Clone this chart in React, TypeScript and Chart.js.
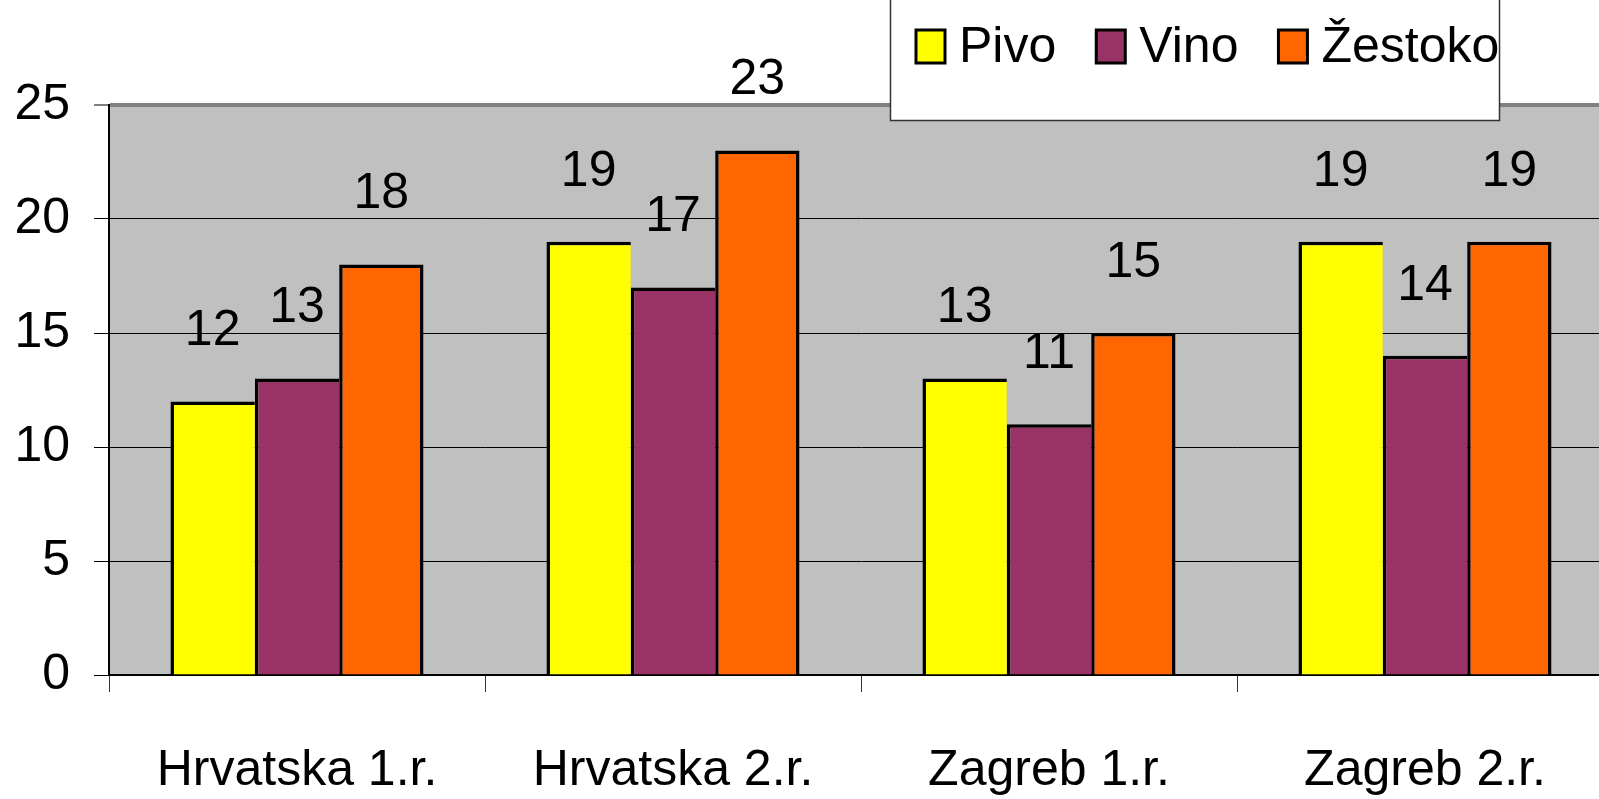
import React, { useEffect, useRef } from "react";
import { Chart, registerables } from "chart.js";

Chart.register(...registerables);

const categories = ["Hrvatska 1.r.", "Hrvatska 2.r.", "Zagreb 1.r.", "Zagreb 2.r."];
const seriesNames = ["Pivo", "Vino", "Žestoko"];
const pivo = [12, 19, 13, 19];
const vino = [13, 17, 11, 14];
const zestoko = [18, 23, 15, 19];
const seriesColors = ["#FFFF00", "#993366", "#FF6600"];
const yMin = 0;
const yMax = 25;
const yStep = 5;

const FONT = '"Liberation Sans", Arial, sans-serif';

const backgroundPlugin = {
  id: "bgPlot",
  beforeDraw(chart: any) {
    const { ctx, chartArea } = chart;
    ctx.save();
    ctx.fillStyle = "#ffffff";
    ctx.fillRect(0, 0, chart.width, chart.height);
    ctx.fillStyle = "#C0C0C0";
    ctx.fillRect(chartArea.left, chartArea.top, chartArea.right - chartArea.left, chartArea.bottom - chartArea.top);
    ctx.restore();
  },
};

const valueLabelPlugin = {
  id: "valueLabels",
  afterDatasetsDraw(chart: any) {
    const { ctx } = chart;
    ctx.save();
    ctx.font = `50px ${FONT}`;
    ctx.fillStyle = "#000";
    ctx.textAlign = "center";
    ctx.textBaseline = "middle";
    chart.data.datasets.forEach((ds: any, i: number) => {
      const meta = chart.getDatasetMeta(i);
      meta.data.forEach((el: any, j: number) => {
        ctx.fillText(String(ds.data[j]), el.x, el.y - 70);
      });
    });
    ctx.restore();
  },
};

const legendPlugin = {
  id: "boxLegend",
  afterDraw(chart: any) {
    const { ctx } = chart;
    ctx.save();
    const boxL = 890.5, boxT = -5, boxR = 1499.5, boxB = 120.5;
    ctx.fillStyle = "#ffffff";
    ctx.fillRect(boxL, boxT, boxR - boxL, boxB - boxT);
    ctx.strokeStyle = "#333";
    ctx.lineWidth = 1.5;
    ctx.strokeRect(boxL, boxT, boxR - boxL, boxB - boxT);
    ctx.font = `50px ${FONT}`;
    ctx.textBaseline = "middle";
    ctx.textAlign = "left";
    let x = 916;
    const sqW = 29, sqH = 33, sqT = 30, midY = 48;
    chart.data.datasets.forEach((ds: any) => {
      ctx.fillStyle = ds.backgroundColor;
      ctx.fillRect(x, sqT, sqW, sqH);
      ctx.strokeStyle = "#000";
      ctx.lineWidth = 3;
      ctx.strokeRect(x, sqT, sqW, sqH);
      x += sqW + 14;
      ctx.fillStyle = "#000";
      ctx.fillText(ds.label, x, midY);
      x += ctx.measureText(ds.label).width + 40;
    });
    ctx.restore();
  },
};

export default function App() {
  const ref = useRef<HTMLCanvasElement | null>(null);

  useEffect(() => {
    if (!ref.current) return;
    Chart.defaults.font.family = FONT;
    const values = [pivo, vino, zestoko];
    const chart = new Chart(ref.current, {
      type: "bar",
      data: {
        labels: categories,
        datasets: seriesNames.map((name, i) => ({
          label: name,
          data: values[i],
          backgroundColor: seriesColors[i],
          borderColor: "#000",
          borderWidth: i === 2 ? { top: 3.5, left: 3.5, right: 3.5, bottom: 0 } : { top: 3.5, left: 3.5, right: 0, bottom: 0 },
          borderSkipped: false,
          inflateAmount: 0,
          categoryPercentage: 0.673,
          barPercentage: 1,
        })),
      },
      options: {
        responsive: false,
        animation: false,
        devicePixelRatio: 1,
        layout: { padding: { top: 105, right: 27, left: 0, bottom: 0 } },
        plugins: {
          legend: { display: false },
          tooltip: { enabled: false },
        },
        scales: {
          x: {
            grid: {
              offset: true,
              drawOnChartArea: false,
              drawTicks: true,
              tickLength: 17,
              tickColor: "#333",
              tickWidth: 1,
            },
            border: { display: true, color: "#000", width: 2 },
            ticks: {
              font: { size: 50, family: FONT },
              color: "#000",
              padding: 49,
              maxRotation: 0,
              minRotation: 0,
              autoSkip: false,
            },
            afterFit: (s: any) => {
              s.height = 124;
            },
          },
          y: {
            min: yMin,
            max: yMax,
            ticks: {
              stepSize: yStep,
              font: { size: 50, family: FONT },
              color: "#000",
              padding: 24,
            },
            grid: {
              color: (c: any) => (c.tick && c.tick.value === yMax ? "#808080" : "#000"),
              lineWidth: (c: any) => (c.tick && c.tick.value === yMax ? 4 : 1),
              tickColor: "#000",
              tickWidth: 1,
              tickLength: 15,
            },
            border: { display: true, color: "#000", width: 2 },
            afterFit: (s: any) => {
              s.width = 109;
            },
          },
        },
      },
      plugins: [backgroundPlugin, valueLabelPlugin, legendPlugin],
    } as any);
    return () => chart.destroy();
  }, []);

  return (
    <div
      style={{
        position: "fixed",
        left: 0,
        top: 0,
        width: 1599,
        height: 799,
        overflow: "hidden",
        background: "#fff",
      }}
    >
      <canvas ref={ref} width={1640} height={799} style={{ display: "block", width: 1640, height: 799 }} />
    </div>
  );
}
